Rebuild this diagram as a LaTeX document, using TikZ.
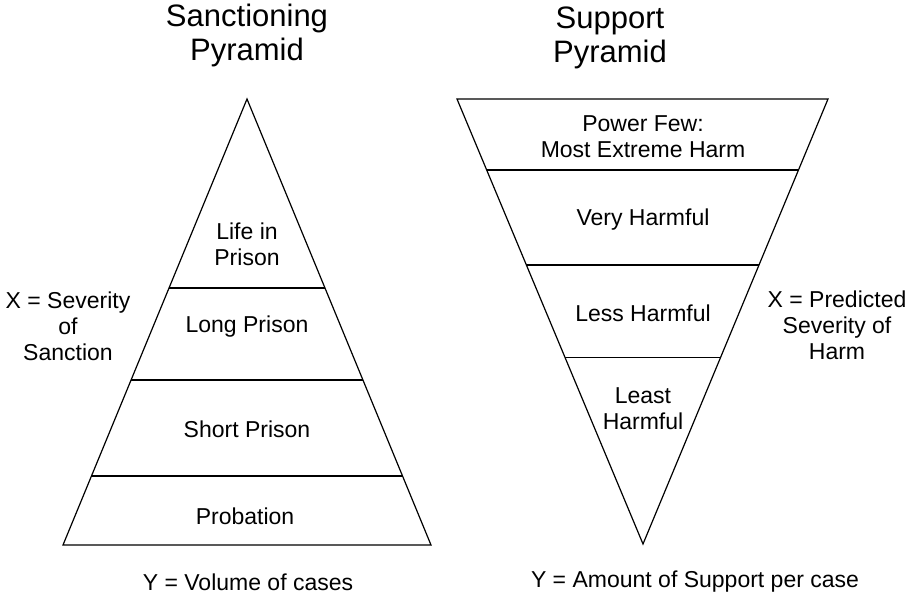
\documentclass[tikz,border=0pt]{standalone}
\usepackage{fontspec}
\setmainfont{Liberation Sans}
\usetikzlibrary{calc}
\begin{document}
\begin{tikzpicture}[x=1pt, y=-1pt, line width=1.2pt,
    lbl/.style={align=center, inner sep=0pt, font=\fontsize{23}{26}\selectfont},
    ttl/.style={align=center, inner sep=0pt, font=\fontsize{31}{34}\selectfont}]
    \useasboundingbox (0,0) rectangle (913,594);

    % Sanctioning pyramid
    \coordinate (sTop) at (247,99);
    \coordinate (sL) at (63,545);
    \coordinate (sR) at (431,545);
    \draw (sL) -- (sTop) -- (sR) -- cycle;
    \foreach \f in {0.4238,0.630,0.8453}
        \draw ($(sTop)!\f!(sL)$) -- ($(sTop)!\f!(sR)$);

    \node[ttl] (sTitle) at (247,35) {Sanctioning\\Pyramid};
    \node[lbl] (life) at (247,244) {Life in\\Prison};
    \node[lbl] (long) at (247,327) {Long Prison};
    \node[lbl] (short) at (247,429) {Short Prison};
    \node[lbl] (prob) at (245,516) {Probation};
    \node[lbl] (sX) at (68,326) {X = Severity\\of\\Sanction};
    \node[lbl] (sY) at (248,582) {Y = Volume of cases};

    % Support pyramid
    \coordinate (rL) at (457,99);
    \coordinate (rR) at (828,99);
    \coordinate (rBot) at (643,544);
    \draw (rL) -- (rR) -- (rBot) -- cycle;
    \foreach \f in {0.1596,0.373,0.580}
        \draw ($(rL)!\f!(rBot)$) -- ($(rR)!\f!(rBot)$);

    \node[ttl] (rTitle) at (610,38) {Support\\Pyramid};
    \node[lbl] (few) at (643,137) {Power Few:\\Most Extreme Harm};
    \node[lbl] (very) at (643,220) {Very Harmful};
    \node[lbl] (less) at (643,313) {Less Harmful};
    \node[lbl] (least) at (643,409) {Least\\Harmful};
    \node[lbl] (rX) at (837,325) {X = Predicted\\Severity of\\Harm};
    \node[lbl] (rY) at (695,582) {Y = Amount of Support per case};
\end{tikzpicture}
\end{document}
